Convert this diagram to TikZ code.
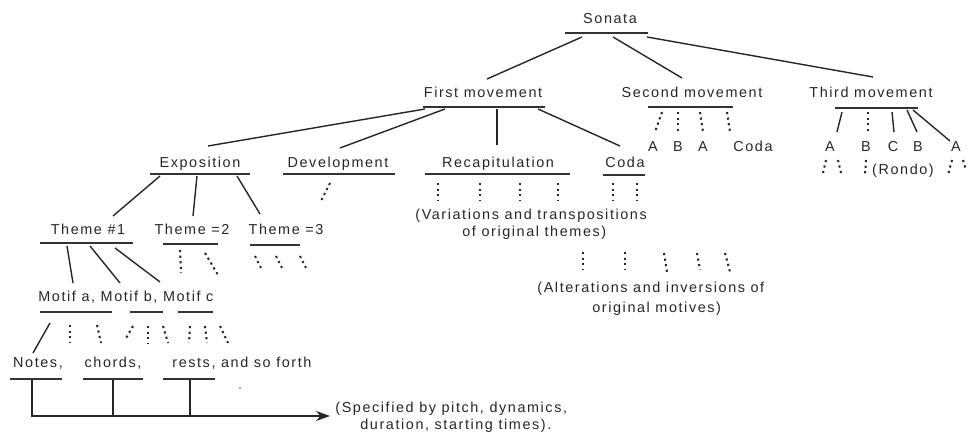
\documentclass[tikz,border=0pt]{standalone}
\usepackage{fontspec}
\setmainfont{Liberation Sans}[LetterSpace=11]
\usetikzlibrary{arrows.meta}
\begin{document}
\begin{tikzpicture}[x=0.5pt,y=-0.5pt,
 lab/.style={inner sep=0pt, anchor=base, text=black!85, font=\fontsize{7.2}{9}\selectfont},
 labw/.style={lab, anchor=base west},
 ul/.style={line width=1.1pt, draw=black!80},
 con/.style={line width=0.7pt, draw=black!85},
 dotc/.style={line width=1pt, draw=black!85, dash pattern=on 1.1pt off 1.7pt}]
\useasboundingbox (0,0) rectangle (969,437);
% labels
\node[lab] (sonata) at (610,24) {Sonata};
\node[lab] (first) at (483,98) {First movement};
\node[lab] (second) at (692,98) {Second movement};
\node[lab] (third) at (871,98) {Third movement};
\node[lab] (expo) at (200,168) {Exposition};
\node[lab] (devel) at (338,168) {Development};
\node[lab] (recap) at (498,168) {Recapitulation};
\node[lab] (codaA) at (625,168) {Coda};
\node[lab] (th1) at (88,235) {Theme \#1};
\node[lab] (th2) at (192,235) {Theme =2};
\node[lab] (th3) at (286,235) {Theme =3};
\node[labw] (motif) at (38,302) {Motif a, Motif b, Motif c};
\node[lab] (notes) at (38,368) {Notes,};
\node[lab] (chords) at (113,368) {chords,};
\node[labw] (rests) at (172,368) {rests, and so forth};
\node[labw] (spec1) at (335,413) {(Specified by pitch, dynamics,};
\node[labw] (spec2) at (360,430) {duration, starting times).};
\node[labw] (var1) at (415,220) {(Variations and transpositions};
\node[labw] (var2) at (462,237) {of original themes)};
\node[labw] (alt1) at (537,293) {(Alterations and inversions of};
\node[labw] (alt2) at (592,313) {original motives)};
\node[lab] (sA1) at (653,152) {A};
\node[lab] (sB) at (678,152) {B};
\node[lab] (sA2) at (703,152) {A};
\node[lab] (sCoda) at (753,152) {Coda};
\node[lab] (tA1) at (830,152) {A};
\node[lab] (tB1) at (866,152) {B};
\node[lab] (tC) at (893,152) {C};
\node[lab] (tB2) at (918,152) {B};
\node[lab] (tA2) at (956,152) {A};
\node[lab] (rondo) at (903,175) {(Rondo)};
% underlines
\foreach \y/\a/\b in {33/565/648, 107/423/545, 107/648/733, 108/835/918,
  174/150/250, 174/283/395, 174/425/570, 175/603/645,
  243/40/133, 244/163/218, 245/250/300,
  312/40/112, 312/130/163, 312/178/213,
  379/10/62, 379/83/143, 379/163/215}
  \draw[ul] (\a,\y) -- (\b,\y);
% solid connectors
\draw[con] (582,37) -- (487,79);
\draw[con] (613,37) -- (682,78);
\draw[con] (647,37) -- (873,77);
\draw[con] (425,109) -- (208,146);
\draw[con] (445,109) -- (340,148);
\draw[con] (497,109) -- (497,145);
\draw[con] (538,109) -- (620,146);
\draw[con] (160,176) -- (113,216);
\draw[con] (197,176) -- (193,216);
\draw[con] (237,176) -- (260,214);
\draw[con] (67,246) -- (73,283);
\draw[con] (90,246) -- (120,283);
\draw[con] (115,248) -- (160,282);
\draw[con] (50,323) -- (33,353);
\draw[con] (842,112) -- (837,132);
\draw[con] (892,112) -- (894,132);
\draw[con] (907,110) -- (917,132);
\draw[con] (913,110) -- (950,141);
\draw[dotc] (868,112) -- (868,133);
% bottom arrow
\draw[con, line width=0.9pt, -{Stealth[length=7pt,width=5pt]}] (32,380) -- (32,416) -- (330,416);
\draw[con, line width=0.9pt] (113,380) -- (113,416);
\draw[con, line width=0.9pt] (190,380) -- (190,416);
\fill[black!70] (240,388) circle (0.8);
% dotted connectors
\foreach \a/\b/\c/\d in {662/112/655/132, 678/112/678/132, 700/112/703/132, 727/112/730/132,
  330/183/320/203,
  438/183/438/200, 480/183/480/200, 520/183/520/200, 558/183/558/200,
  613/183/613/200, 637/183/637/200,
  180/250/181/273, 205/253/218/275,
  255/256/262/270, 276/256/283/270, 300/256/307/270,
  70/325/70/343, 97/325/101/343, 133/326/125/340, 148/326/148/343, 163/326/168/343,
  190/326/189/343, 205/326/207/343, 220/326/228/343,
  583/252/583/270, 625/252/625/270, 664/253/667/272, 697/253/700/270, 725/253/730/272,
  826/160/823/173, 838/160/841/173, 866/160/865/175, 952/160/948/175, 963/160/966/170}
  \draw[dotc] (\a,\b) -- (\c,\d);
\end{tikzpicture}
\end{document}
